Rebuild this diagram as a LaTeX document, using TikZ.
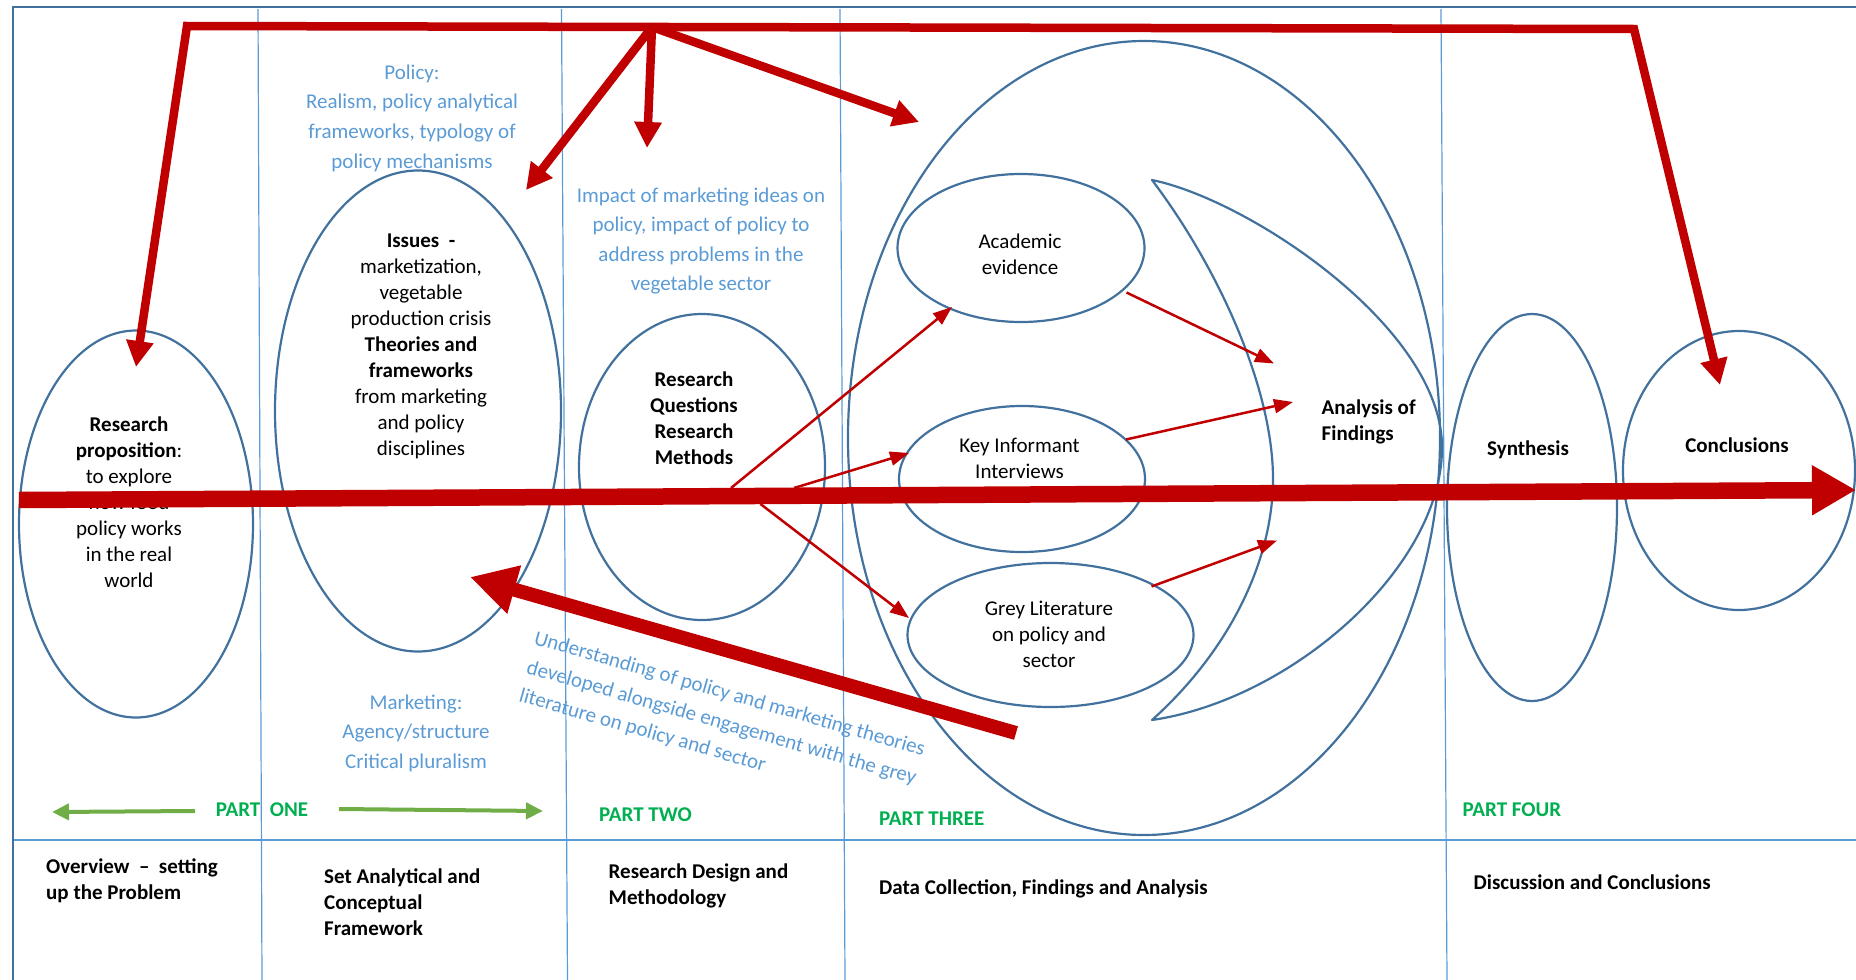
\documentclass[tikz,border=0pt]{standalone}
\usepackage{fontspec}
\setmainfont{Carlito}
\usetikzlibrary{arrows.meta,shapes.geometric}
\definecolor{ellblue}{HTML}{41719C}
\definecolor{divblue}{HTML}{5B9BD5}
\definecolor{lblblue}{HTML}{5B9BD5}
\definecolor{darkred}{HTML}{C00000}
\definecolor{partgreen}{HTML}{00B050}
\definecolor{arrgreen}{HTML}{70AD47}
\begin{document}
\begin{tikzpicture}[x=1pt,y=-1pt,
  ell/.style={draw=ellblue, line width=2.2pt, ellipse, inner sep=0pt, outer sep=0pt},
  divline/.style={draw=divblue, line width=1.2pt},
  framel/.style={draw=ellblue, line width=2.5pt},
  txt/.style={font=\fontsize{21}{26}\selectfont, align=center, inner sep=0pt},
  btxt/.style={font=\fontsize{21}{26}\selectfont\bfseries, align=center, inner sep=0pt},
  bltxt/.style={font=\fontsize{21}{26}\selectfont\bfseries, align=left, inner sep=0pt, anchor=west},
  bluetxt/.style={font=\fontsize{21}{29.6}\selectfont, text=lblblue, align=center, inner sep=0pt},
  rottxt/.style={font=\fontsize{21}{26}\selectfont, text=lblblue, inner sep=0pt, anchor=base west, rotate=-16},
  parttxt/.style={font=\fontsize{21}{26}\selectfont\bfseries, text=partgreen, inner sep=0pt},
  bigred/.style={draw=darkred, line width=8.5pt},
  redtip/.style={-{Triangle[length=26pt,width=26pt]}},
  thinred/.style={draw=darkred, line width=2.5pt, -{Triangle[length=19pt,width=14pt]}},
  greenarr/.style={draw=arrgreen, line width=4pt, -{Triangle[length=17pt,width=16pt]}}
]
\useasboundingbox (0,0) rectangle (1856,980);

% frame and dividers
\draw[divline] (258,9) -- (262,980);
\draw[divline] (561.5,9) -- (567.5,980);
\draw[divline] (840,9) -- (845,980);
\draw[divline] (1441,9) -- (1447,980);
\draw[divline] (13,840) -- (1856,840);
\draw[framel] (12,7) -- (1856,7);
\draw[framel] (13,7) -- (13,980);

% ellipses
\node[ell, minimum width=234pt, minimum height=387pt] (rp) at (136,524) {};
\node[ell, minimum width=286pt, minimum height=481pt] (iss) at (418,411) {};
\node[ell, minimum width=246pt, minimum height=306pt] (rq) at (702,467) {};
\node[ell, minimum width=592pt, minimum height=794pt] (big) at (1144,438) {};
\node[ell, minimum width=247pt, minimum height=148pt] (ae) at (1021,248) {};
\node[ell, minimum width=246pt, minimum height=146pt] (ki) at (1022,479) {};
\node[ell, minimum width=286pt, minimum height=144pt] (gl) at (1050.5,635) {};
\node[ell, minimum width=170pt, minimum height=387pt] (syn) at (1532,507.5) {};
\node[ell, minimum width=232pt, minimum height=279pt] (con) at (1739,470.5) {};

% crescent
\draw[ellblue, line width=2.2pt, line join=round]
  (1152,180) .. controls (1250,200) and (1445,330) .. (1442,450)
  .. controls (1440,570) and (1290,700) .. (1152,720)
  .. controls (1230,650) and (1273,560) .. (1273,479)
  .. controls (1273,390) and (1220,270) .. (1152,180) -- cycle;

% texts in ellipses
\node[txt] (rpt) at (129,502) {\textbf{Research}\\\textbf{proposition}:\\to explore\\how food\\policy works\\in the real\\world};
\node[txt] (isst) at (421,346) {\textbf{Issues\ \ -}\\marketization,\\vegetable\\production crisis\\\textbf{Theories and}\\\textbf{frameworks}\\from marketing\\and policy\\disciplines};
\node[btxt] (rqt) at (694,418.5) {Research\\Questions\\Research\\Methods};
\node[txt] (aet) at (1020,254) {Academic\\evidence};
\node[txt] (kit) at (1019.5,458) {Key Informant\\Interviews};
\node[txt] (glt) at (1049,634.5) {Grey Literature\\on policy and\\sector};
\node[bltxt] (aft) at (1321.5,422) {Analysis of\\Findings};
\node[btxt] (synt) at (1528,450) {Synthesis};
\node[btxt] (cont) at (1737,445) {Conclusions};

% blue labels
\node[bluetxt] (pol) at (412,118) {Policy:\\Realism, policy analytical\\frameworks, typology of\\policy mechanisms};
\node[bluetxt] (imp) at (701,241) {Impact of marketing ideas on\\policy, impact of policy to\\address problems in the\\vegetable sector};
\node[bluetxt] (mkt) at (416,733) {Marketing:\\Agency/structure\\Critical pluralism};
\node[rottxt] (u1) at (533,644) {Understanding of policy and marketing theories};
\node[rottxt] (u2) at (525.5,673) {developed alongside engagement with the grey};
\node[rottxt] (u3) at (518,701) {literature on policy and sector};

% part labels
\node[parttxt] (p1) at (262,810) {PART~~ONE};
\node[parttxt, anchor=west] (p2) at (599,815) {PART TWO};
\node[parttxt, anchor=west] (p3) at (879,819) {PART THREE};
\node[parttxt, anchor=west] (p4) at (1462.5,809.5) {PART FOUR};

% bottom labels
\node[bltxt] (ov) at (46,880.5) {Overview~~–~~setting\\up the Problem};
\node[bltxt] (sa) at (324,902.5) {Set Analytical and\\Conceptual\\Framework};
\node[bltxt] (rd) at (608.5,885.5) {Research Design and\\Methodology};
\node[bltxt] (dc) at (879,888.5) {Data Collection, Findings and Analysis};
\node[bltxt] (dcl) at (1473.5,882.5) {Discussion and Conclusions};

% green arrows
\coordinate (g1s) at (195,811);
\coordinate (g1e) at (52,812);
\coordinate (g2s) at (339,809);
\coordinate (g2e) at (543,811);
\draw[greenarr] (g1s) -- (g1e);
\draw[greenarr] (g2s) -- (g2e);

% thin red arrows
\coordinate (r1s) at (731,488);  \coordinate (r1e) at (952,307);
\coordinate (r2s) at (794,488);  \coordinate (r2e) at (909,453);
\coordinate (r3s) at (760.5,504); \coordinate (r3e) at (909,618);
\coordinate (r4s) at (1126.5,292.5); \coordinate (r4e) at (1274,363.5);
\coordinate (r5s) at (1126,439.5); \coordinate (r5e) at (1293,402);
\coordinate (r6s) at (1151.5,586.5); \coordinate (r6e) at (1277,540.5);
\draw[thinred] (r1s) -- (r1e);
\draw[thinred] (r2s) -- (r2e);
\draw[thinred] (r3s) -- (r3e);
\draw[thinred] (r4s) -- (r4e);
\draw[thinred] (r5s) -- (r5e);
\draw[thinred] (r6s) -- (r6e);

% big horizontal arrow
\coordinate (hs) at (19,500);
\coordinate (he) at (1856,490);
\draw[draw=darkred, line width=16.5pt, -{Triangle[length=44pt,width=47pt]}] (hs) -- (he);

% diagonal arrow
\coordinate (ds) at (1016,733);
\coordinate (de) at (470,577);
\draw[draw=darkred, line width=14pt, -{Triangle[length=46pt,width=47pt]}] (ds) -- (de);

% top path
\coordinate (tl) at (136,367);
\coordinate (c1) at (187,26);
\coordinate (c2) at (1634,29);
\coordinate (tr) at (1720,385);
\coordinate (br) at (652,27);
\coordinate (b1) at (526,190);
\coordinate (b2) at (647,148);
\coordinate (b3) at (919,122);
\draw[bigred, {Triangle[length=26pt,width=26pt]}-{Triangle[length=26pt,width=26pt]}, line join=miter] (tl) -- (c1) -- (c2) -- (tr);
\draw[bigred, redtip] (br) -- (b1);
\draw[bigred, redtip] (br) -- (b2);
\draw[bigred, redtip] (br) -- (b3);
\end{tikzpicture}
\end{document}
